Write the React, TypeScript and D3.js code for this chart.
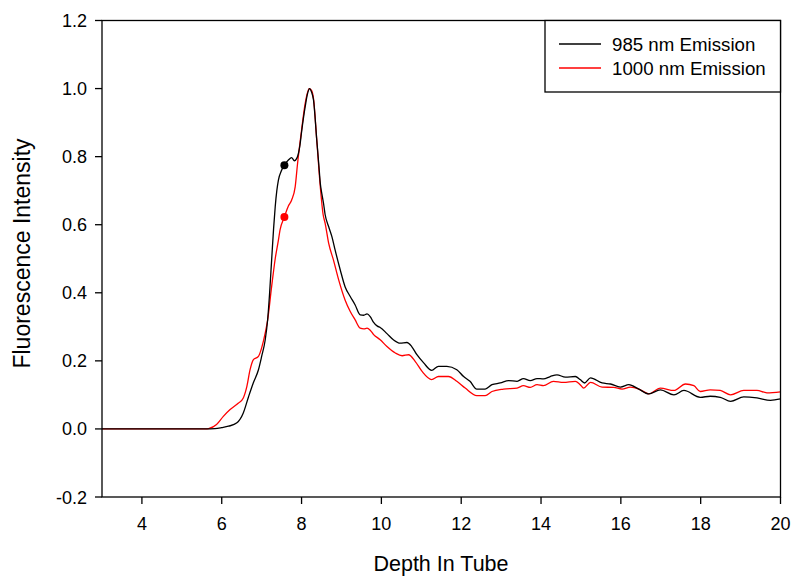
import React from "react";
import * as d3 from "d3";

const W = 793;
const H = 577;

// 985 nm Emission series (depth, intensity)
const blackX = [3.0, 5.6, 5.83, 6.0, 6.17, 6.38, 6.54, 6.67, 6.79, 6.92, 7.0, 7.09, 7.15, 7.2, 7.25, 7.3, 7.34, 7.38, 7.42, 7.5, 7.57, 7.67, 7.75, 7.82, 7.88, 7.96, 8.0, 8.09, 8.15, 8.2, 8.25, 8.3, 8.38, 8.43, 8.47, 8.51, 8.55, 8.59, 8.68, 8.76, 8.84, 8.97, 9.09, 9.22, 9.34, 9.47, 9.56, 9.64, 9.72, 9.8, 9.9, 9.97, 10.14, 10.3, 10.47, 10.64, 10.76, 10.89, 11.06, 11.26, 11.43, 11.64, 11.89, 12.06, 12.22, 12.39, 12.6, 12.77, 12.98, 13.19, 13.4, 13.56, 13.73, 13.9, 14.06, 14.23, 14.4, 14.61, 14.86, 14.98, 15.09, 15.24, 15.53, 15.74, 15.99, 16.2, 16.45, 16.7, 16.99, 17.33, 17.58, 17.99, 18.24, 18.49, 18.75, 19.08, 19.41, 19.75, 20.0];
const blackY = [0, 0, 0.001, 0.004, 0.008, 0.018, 0.047, 0.094, 0.135, 0.174, 0.213, 0.262, 0.32, 0.4, 0.496, 0.59, 0.653, 0.7, 0.731, 0.76, 0.775, 0.79, 0.797, 0.788, 0.795, 0.834, 0.872, 0.946, 0.985, 1.0, 0.99, 0.966, 0.85, 0.78, 0.721, 0.69, 0.663, 0.63, 0.594, 0.565, 0.526, 0.467, 0.418, 0.389, 0.365, 0.335, 0.334, 0.338, 0.33, 0.314, 0.302, 0.298, 0.28, 0.262, 0.252, 0.254, 0.242, 0.218, 0.194, 0.172, 0.184, 0.184, 0.174, 0.154, 0.14, 0.117, 0.117, 0.13, 0.135, 0.142, 0.14, 0.148, 0.142, 0.148, 0.147, 0.154, 0.159, 0.152, 0.154, 0.145, 0.135, 0.15, 0.135, 0.132, 0.123, 0.13, 0.117, 0.103, 0.115, 0.1, 0.113, 0.093, 0.096, 0.093, 0.081, 0.094, 0.091, 0.084, 0.088];

// 1000 nm Emission series (depth, intensity)
const redX = [3.0, 5.6, 5.67, 5.87, 6.04, 6.21, 6.42, 6.54, 6.63, 6.71, 6.79, 6.92, 7.0, 7.09, 7.15, 7.25, 7.34, 7.42, 7.46, 7.57, 7.67, 7.75, 7.84, 7.9, 7.99, 8.09, 8.19, 8.25, 8.3, 8.38, 8.47, 8.54, 8.59, 8.68, 8.8, 8.93, 9.09, 9.22, 9.34, 9.47, 9.56, 9.64, 9.72, 9.8, 9.97, 10.14, 10.35, 10.52, 10.68, 10.85, 11.02, 11.26, 11.43, 11.68, 11.89, 12.1, 12.39, 12.6, 12.77, 13.06, 13.4, 13.56, 13.73, 13.9, 14.06, 14.31, 14.56, 14.86, 14.98, 15.07, 15.24, 15.53, 15.82, 16.03, 16.24, 16.49, 16.7, 16.99, 17.33, 17.62, 17.83, 17.99, 18.24, 18.49, 18.75, 19.08, 19.41, 19.66, 20.0];
const redY = [0, 0, 0.001, 0.013, 0.037, 0.057, 0.076, 0.091, 0.125, 0.174, 0.203, 0.213, 0.238, 0.282, 0.32, 0.418, 0.5, 0.555, 0.584, 0.623, 0.655, 0.672, 0.711, 0.78, 0.868, 0.956, 1.0, 0.995, 0.97, 0.85, 0.711, 0.63, 0.605, 0.545, 0.496, 0.438, 0.379, 0.345, 0.321, 0.296, 0.294, 0.296, 0.29, 0.278, 0.262, 0.242, 0.223, 0.215, 0.218, 0.198, 0.169, 0.145, 0.154, 0.154, 0.14, 0.12, 0.098, 0.098, 0.11, 0.117, 0.12, 0.127, 0.122, 0.13, 0.127, 0.14, 0.137, 0.14, 0.13, 0.12, 0.137, 0.123, 0.122, 0.117, 0.123, 0.115, 0.103, 0.12, 0.113, 0.132, 0.127, 0.11, 0.115, 0.113, 0.1, 0.113, 0.113, 0.106, 0.109];

// highlighted points
const markerX = [7.57, 7.57];
const markerY = [0.775, 0.623];

const xTicks = [4, 6, 8, 10, 12, 14, 16, 18, 20];
const yTicks = [-0.2, 0.0, 0.2, 0.4, 0.6, 0.8, 1.0, 1.2];
const seriesNames = ["985 nm Emission", "1000 nm Emission"];
const seriesColors = ["#000000", "#ff0000"];

const X0 = 102;
const X1 = 780.5;
const Y0 = 20.5;
const Y1 = 497;

export default function App() {
  const x = d3.scaleLinear().domain([3, 20]).range([X0, X1]);
  const y = d3.scaleLinear().domain([-0.2, 1.2]).range([Y1, Y0]);
  const line = d3
    .line<[number, number]>()
    .x((d) => x(d[0]))
    .y((d) => y(d[1]))
    .curve(d3.curveMonotoneX);
  const blackPts = blackX.map((v, i) => [v, blackY[i]] as [number, number]);
  const redPts = redX.map((v, i) => [v, redY[i]] as [number, number]);
  const font = "Arial, 'Liberation Sans', sans-serif";

  return (
    <svg
      width={W}
      height={H}
      style={{ position: "absolute", left: 0, top: 0, background: "#fff" }}
      fontFamily={font}
    >
      <rect x={0} y={0} width={W} height={H} fill="#fff" />
      <path d={line(redPts) || ""} fill="none" stroke={seriesColors[1]} strokeWidth={1.3} />
      <path d={line(blackPts) || ""} fill="none" stroke={seriesColors[0]} strokeWidth={1.3} />
      {markerX.map((mx, i) => (
        <circle key={i} cx={x(mx)} cy={y(markerY[i])} r={4} fill={seriesColors[i]} />
      ))}
      <rect x={X0} y={Y0} width={X1 - X0} height={Y1 - Y0} fill="none" stroke="#000" strokeWidth={1.3} />
      {xTicks.map((t) => (
        <g key={t}>
          <line x1={x(t)} x2={x(t)} y1={Y1} y2={Y1 + 7} stroke="#000" strokeWidth={1.3} />
          <text x={x(t)} y={530} textAnchor="middle" fontSize={18} fill="#000">
            {t}
          </text>
        </g>
      ))}
      {yTicks.map((t) => (
        <g key={t}>
          <line x1={X0 - 7} x2={X0} y1={y(t)} y2={y(t)} stroke="#000" strokeWidth={1.3} />
          <text x={87} y={y(t) + 6.5} textAnchor="end" fontSize={18} fill="#000">
            {t.toFixed(1)}
          </text>
        </g>
      ))}
      <text x={441} y={571} textAnchor="middle" fontSize={21.5} fill="#000">
        Depth In Tube
      </text>
      <text
        transform={`translate(30,${(135 + 372) / 2}) rotate(-90)`}
        textAnchor="middle"
        fontSize={23}
        fill="#000"
      >
        Fluorescence Intensity
      </text>
      <g>
        <rect x={545} y={Y0} width={X1 - 545} height={92 - Y0} fill="#fff" stroke="#000" strokeWidth={1.3} />
        {seriesNames.map((n, i) => (
          <g key={n}>
            <line x1={559} x2={601} y1={44 + i * 24} y2={44 + i * 24} stroke={seriesColors[i]} strokeWidth={1.3} />
            <text x={612} y={50.5 + i * 24} fontSize={18.7} fill="#000">
              {n}
            </text>
          </g>
        ))}
      </g>
    </svg>
  );
}
